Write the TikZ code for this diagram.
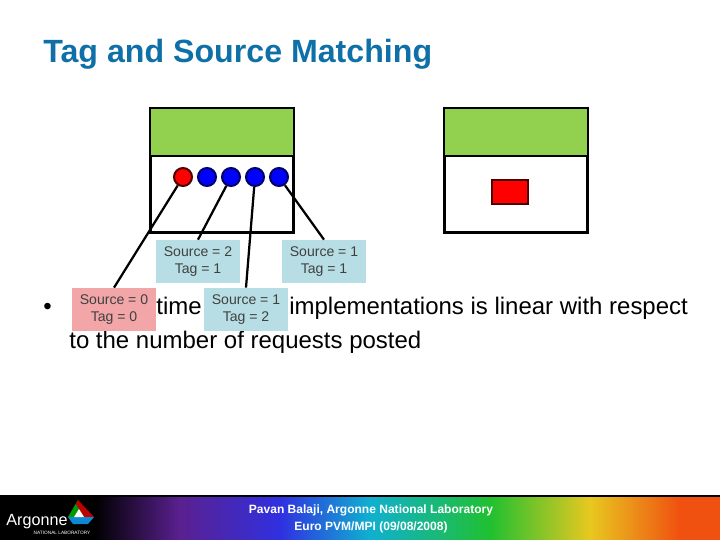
\documentclass[tikz,border=0pt]{standalone}
\usepackage{fontspec}
\setmainfont{Liberation Sans}
\usetikzlibrary{arrows}
\definecolor{titleBlue}{HTML}{0F70A8}
\definecolor{bufferGreen}{HTML}{92D050}
\definecolor{labelBlue}{HTML}{B7DEE4}
\definecolor{labelRed}{HTML}{F2A6A8}
\definecolor{barPurple}{HTML}{5A2090}
\definecolor{barBlue}{HTML}{3030E0}
\definecolor{barCyan}{HTML}{10B0D0}
\definecolor{barGreen}{HTML}{20C030}
\definecolor{barYellow}{HTML}{E8C820}
\definecolor{barOrange}{HTML}{F05010}
\begin{document}
\begin{tikzpicture}[x=0.02cm,y=-0.02cm]
	\tikzset{buffer/.style = {draw,line width=0.06cm,minimum width=2.88cm,minimum height=2.5cm,inner sep=0pt}}
	\tikzset{bufferTop/.style = {draw,fill=bufferGreen,line width=0.05cm,minimum width=2.88cm,minimum height=0.96cm,inner sep=0pt}}
	\tikzset{request/.style = {circle,draw=black!60!blue,fill=blue,line width=0.04cm,minimum size=0.36cm,inner sep=0pt}}
	\tikzset{tagLabel/.style = {fill=labelBlue,text=black!75,font=\fontsize{8}{9.7}\selectfont,align=center,minimum width=1.68cm,minimum height=0.86cm,inner sep=0pt}}
	\tikzstyle{edge} = [line width=0.045cm]
	\tikzstyle{bodyText} = [anchor=base west,inner sep=0pt,font=\fontsize{13.65}{16}\selectfont]
	\tikzstyle{footerText} = [text=white,inner sep=0pt,font=\fontsize{6.85}{8}\selectfont\bfseries]
	\useasboundingbox (0,0) rectangle (720,540);
	%footer
	\fill[black] (0,495) rectangle (720,540);
	\shade[left color=black,right color=barPurple] (95,497) rectangle (180,540);
	\shade[left color=barPurple,right color=barBlue] (180,497) rectangle (280,540);
	\shade[left color=barBlue,right color=barCyan] (280,497) rectangle (370,540);
	\shade[left color=barCyan,right color=barGreen] (370,497) rectangle (490,540);
	\shade[left color=barGreen,right color=barYellow] (490,497) rectangle (590,540);
	\shade[left color=barYellow,right color=barOrange] (590,497) rectangle (680,540);
	\fill[barOrange] (680,497) rectangle (720,540);
	\node[footerText] (foot1) at (371,510) {Pavan Balaji, Argonne National Laboratory};
	\node[footerText] (foot2) at (371,527) {Euro PVM/MPI (09/08/2008)};
	%logo
	\fill[green!60!black] (78,500) -- (68,517) -- (75,517) -- (81,506) -- cycle;
	\fill[red!75!black] (78,500) -- (94,517) -- (84,517) -- (76,504) -- cycle;
	\fill[cyan!70!blue] (68,517) -- (94,517) -- (88,524) -- (73,524) -- cycle;
	\fill[white] (79,509) -- (84,517) -- (74,517) -- cycle;
	\node[text=white,inner sep=0pt,font=\fontsize{9.2}{11}\selectfont] (logo) at (37,522) {Argonne};
	\node[text=white,inner sep=0pt,font=\fontsize{2.7}{3}\selectfont] (logoSub) at (62,533) {NATIONAL LABORATORY};
	%title and text
	\node[anchor=base west,text=titleBlue,inner sep=0pt,font=\fontsize{18.3}{20}\selectfont\bfseries] (title) at (43,63) {Tag and Source Matching};
	\node[bodyText] (dot) at (43,315) {•};
	\node[bodyText] (word1) at (156,315) {time};
	\node[bodyText] (word2) at (289,315) {implementations is linear with respect};
	\node[bodyText] (line2) at (69,349) {to the number of requests posted};
	%left buffer
	\node[buffer] (left) at (222,170.5) {};
	\node[bufferTop] (leftTop) at (222,132) {};
	\node[request,draw=black!70!red,fill=red] (r0) at (183,177) {};
	\node[request] (r1) at (207,177) {};
	\node[request] (r2) at (231,177) {};
	\node[request] (r3) at (255,177) {};
	\node[request] (r4) at (279,177) {};
	%right buffer
	\node[buffer] (right) at (516,170.5) {};
	\node[bufferTop] (rightTop) at (516,132) {};
	\node[draw=black!70!red,fill=red,line width=0.04cm,minimum width=0.72cm,minimum height=0.48cm,inner sep=0pt] (send) at (510,192) {};
	%labels
	\node[tagLabel] (l2) at (198,261.5) {Source = 2\\Tag = 1};
	\node[tagLabel] (l4) at (324,261.5) {Source = 1\\Tag = 1};
	\node[tagLabel,fill=labelRed] (l0) at (114,309.5) {Source = 0\\Tag = 0};
	\node[tagLabel] (l3) at (246,309.5) {Source = 1\\Tag = 2};
	%matches
	\draw[edge] (r0) to (l0.north);
	\draw[edge] (r2) to (l2.north);
	\draw[edge] (r3) to (l3.north);
	\draw[edge] (r4) to (l4.north);
\end{tikzpicture}
\end{document}
